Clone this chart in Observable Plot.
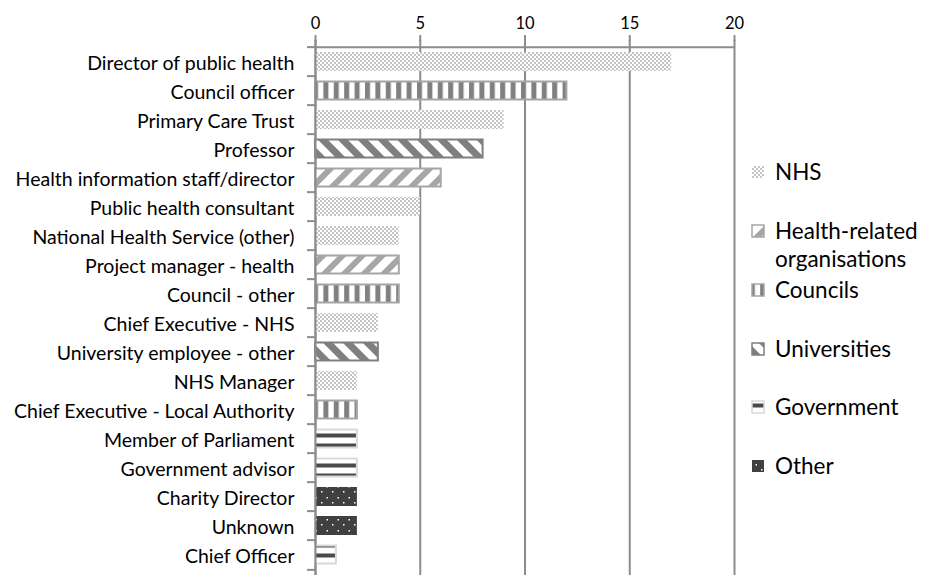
<!DOCTYPE html>
<html>
<head>
<meta charset="utf-8">
<script src="https://cdn.jsdelivr.net/npm/d3@7"></script>
<script src="https://cdn.jsdelivr.net/npm/@observablehq/plot@0.6"></script>
<style>
  html, body { margin: 0; padding: 0; background: #fff; }
  #chart { width: 925px; height: 577px; }
  svg { font-family: Lato, "Open Sans", sans-serif; }
</style>
</head>
<body>
<div id="chart"></div>
<script>
// ---- data ----
const categories = [
  "Director of public health",
  "Council officer",
  "Primary Care Trust",
  "Professor",
  "Health information staff/director",
  "Public health consultant",
  "National Health Service (other)",
  "Project manager - health",
  "Council - other",
  "Chief Executive - NHS",
  "University employee - other",
  "NHS Manager",
  "Chief Executive - Local Authority",
  "Member of Parliament",
  "Government advisor",
  "Charity Director",
  "Unknown",
  "Chief Officer"
];
const values = [17, 12, 9, 8, 6, 5, 4, 4, 4, 3, 3, 2, 2, 2, 2, 2, 2, 1];
const groupOf = [
  "NHS", "Councils", "NHS", "Universities", "Health-related organisations",
  "NHS", "NHS", "Health-related organisations", "Councils", "NHS",
  "Universities", "NHS", "Councils", "Government", "Government",
  "Other", "Other", "Government"
];
const groups = ["NHS", "Health-related organisations", "Councils", "Universities", "Government", "Other"];
const legendLines = [["NHS"], ["Health-related", "organisations"], ["Councils"], ["Universities"], ["Government"], ["Other"]];
const xTicks = [0, 5, 10, 15, 20];

const data = categories.map((c, i) => ({name: c, value: values[i], group: groupOf[i]}));

// ---- styles per group ----
const patId = ["p-nhs", "p-health", "p-council", "p-uni", "p-gov", "p-other"];
const strokeOf = [null, "#a6a6a6", "#a6a6a6", "#7f7f7f", "#d9d9d9", null];

const W = 925, H = 577, mTop = 40, mBottom = 2, mLeft = 315, mRight = 191;
const step = (H - mTop - mBottom) / categories.length;
const grey = "#8c8c8c";

const marks = [
  Plot.ruleX(xTicks, {stroke: grey, strokeWidth: 2}),
  ...groups.map((g, i) => Plot.barX(data.filter(d => d.group === g), {
    x: "value", y: "name",
    fill: `url(#${patId[i]})`,
    stroke: strokeOf[i] || "none",
    strokeWidth: 2,
    insetTop: strokeOf[i] ? 5.5 : 5, insetBottom: strokeOf[i] ? 5.5 : 5
  })),
  Plot.ruleX([0], {stroke: grey, strokeWidth: 2}),
  Plot.ruleY([categories[0]], {x1: 0, x2: 20, dy: -step / 2, stroke: grey, strokeWidth: 2}),
  Plot.axisX({anchor: "top", ticks: xTicks, tickSize: 6, tickPadding: 6, fontSize: 16.5,
              stroke: grey, strokeWidth: 2, fill: "#000", label: null}),
  Plot.axisY({tickSize: 8, tickFormat: () => "", dy: -step / 2, stroke: grey, strokeWidth: 2, label: null}),
  Plot.axisY([categories[categories.length - 1]], {tickSize: 8, tickFormat: () => "", dy: step / 2, stroke: grey, strokeWidth: 2, label: null}),
  Plot.axisY({tickSize: 0, tickPadding: 21, fontSize: 19.5, fill: "#000", dy: 2, label: null})
];

const svg = Plot.plot({
  width: W, height: H,
  marginTop: mTop, marginBottom: mBottom, marginLeft: mLeft, marginRight: mRight,
  x: {domain: [0, 20], axis: null},
  y: {domain: categories, padding: 0, axis: null},
  marks
});

// pattern definitions
const defs = d3.select(svg).insert("defs", ":first-child");
// NHS checker
{
  const p = defs.append("pattern").attr("id", "p-nhs").attr("patternUnits", "userSpaceOnUse")
    .attr("width", 4).attr("height", 4);
  p.append("rect").attr("width", 4).attr("height", 4).attr("fill", "#fff");
  p.append("rect").attr("width", 2).attr("height", 2).attr("fill", "#c4c4c4");
  p.append("rect").attr("x", 2).attr("y", 2).attr("width", 2).attr("height", 2).attr("fill", "#c4c4c4");
}
// Health-related: "/" stripes light grey
{
  const p = defs.append("pattern").attr("id", "p-health").attr("patternUnits", "userSpaceOnUse")
    .attr("width", 14).attr("height", 14).attr("patternTransform", "rotate(45)");
  p.append("rect").attr("width", 14).attr("height", 14).attr("fill", "#fff");
  p.append("rect").attr("width", 6).attr("height", 14).attr("fill", "#a6a6a6");
}
// Councils: vertical stripes
{
  const p = defs.append("pattern").attr("id", "p-council").attr("patternUnits", "userSpaceOnUse")
    .attr("width", 10.4).attr("height", 10);
  p.append("rect").attr("width", 10.4).attr("height", 10).attr("fill", "#fff");
  p.append("rect").attr("x", 1).attr("width", 5).attr("height", 10).attr("fill", "#808080");
}
// Universities: "\" stripes dark grey
{
  const p = defs.append("pattern").attr("id", "p-uni").attr("patternUnits", "userSpaceOnUse")
    .attr("width", 14).attr("height", 14).attr("patternTransform", "rotate(-45)");
  p.append("rect").attr("width", 14).attr("height", 14).attr("fill", "#fff");
  p.append("rect").attr("width", 7).attr("height", 14).attr("fill", "#7f7f7f");
}
// Government: horizontal dark stripes
{
  const p = defs.append("pattern").attr("id", "p-gov").attr("patternUnits", "userSpaceOnUse")
    .attr("width", 20).attr("height", 10).attr("y", 0.5);
  p.append("rect").attr("width", 20).attr("height", 10).attr("fill", "#fff");
  p.append("rect").attr("y", 3).attr("width", 20).attr("height", 4).attr("fill", "#4a4a4a");
}
// Other: dark with white dots
{
  const p = defs.append("pattern").attr("id", "p-other").attr("patternUnits", "userSpaceOnUse")
    .attr("width", 11).attr("height", 11);
  p.append("rect").attr("width", 11).attr("height", 11).attr("fill", "#404040");
  p.append("rect").attr("x", 2).attr("y", 7).attr("width", 1.5).attr("height", 1.5).attr("fill", "#fff");
  p.append("rect").attr("x", 7.5).attr("y", 2).attr("width", 1.5).attr("height", 1.5).attr("fill", "#fff");
}

// legend
const legendY = [172, 231, 290, 349, 407, 466];
const lg = d3.select(svg).append("g").attr("font-size", 22.5).attr("fill", "#000").attr("text-anchor", "start");
groups.forEach((g, i) => {
  const y = legendY[i];
  lg.append("rect").attr("x", 752).attr("y", y - 6).attr("width", 12).attr("height", 12)
    .attr("fill", `url(#${patId[i]})`)
    .attr("stroke", strokeOf[i] || "none").attr("stroke-width", 1.5);
  legendLines[i].forEach((t, k) => {
    lg.append("text").attr("x", 775).attr("y", y + k * 28).attr("dy", "0.36em").text(t);
  });
});

document.getElementById("chart").appendChild(svg);
</script>
</body>
</html>
